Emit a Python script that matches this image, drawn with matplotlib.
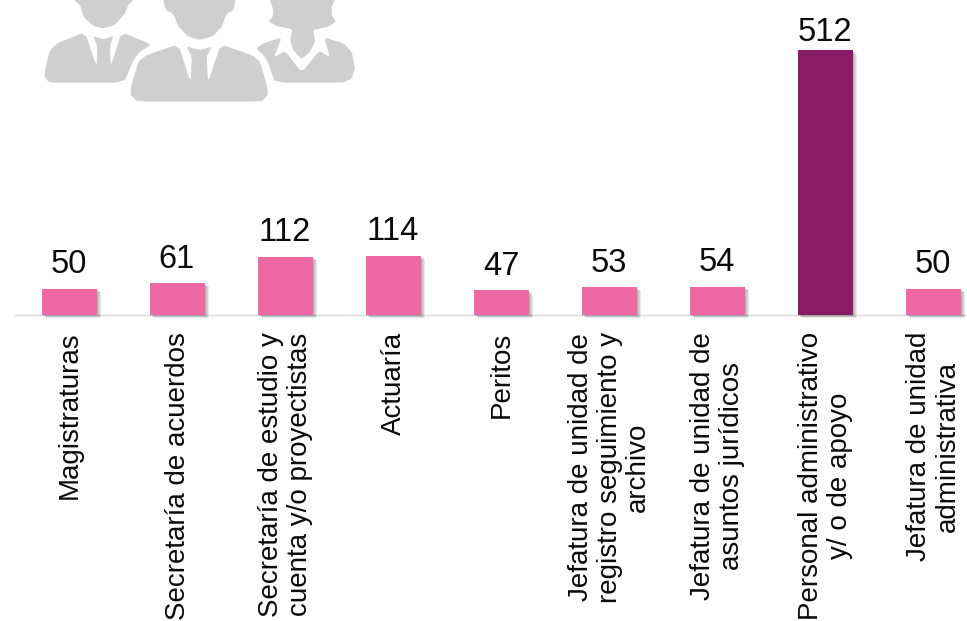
import matplotlib
matplotlib.use("Agg")
import matplotlib.pyplot as plt
import matplotlib.patheffects as pe
from matplotlib.patches import Polygon

plt.rcParams['font.family'] = ['Liberation Sans', 'DejaVu Sans']

categories = ["Magistraturas", "Secretaría de acuerdos",
              "Secretaría de estudio y\ncuenta y/o proyectistas", "Actuaría", "Peritos",
              "Jefatura de unidad de\nregistro seguimiento y\narchivo",
              "Jefatura de unidad de\nasuntos jurídicos",
              "Personal administrativo\ny/ o de apoyo",
              "Jefatura de unidad\nadministrativa"]
values = [50, 61, 112, 114, 47, 53, 54, 512, 50]
colors = ["#EE69A4"] * 7 + ["#8A1C65"] + ["#EE69A4"]

W, H = 967, 621
fig = plt.figure(figsize=(W / 100, H / 100), dpi=100)
ax = fig.add_axes([0, 0, 1, 1])
scale = 0.516
base = 314.5
ax.set_xlim(-69 / 108, (W - 69) / 108)
ax.set_ylim(-(H - base) / scale, base / scale)
ax.axis('off')

positions = list(range(len(values)))
shadow = [pe.SimplePatchShadow(offset=(o, -o * 0.8), shadow_rgbFace='#555555', alpha=0.13) for o in (3.0, 2.4, 1.8, 1.2)]
shadow.append(pe.Normal())
bars = ax.bar(positions, values, width=55 / 108, color=colors, linewidth=0, zorder=3)
for b in bars:
    b.set_path_effects(shadow)

line_x = (15 - 69) / 108
ax.plot([line_x, ax.get_xlim()[1]], [0, 0], color='#d9d9d9', lw=1, zorder=2)

for x, v in zip(positions, values):
    pad = 2.0 if v > 300 else 6.0
    ax.annotate(str(v), (x, v), xytext=(0, pad), textcoords='offset points', ha='center', va='bottom',
                fontsize=23.5, color='#0a0a0a')
for x, c in zip(positions, categories):
    ax.annotate(c, (x + 0.005, 0), xytext=(0, -12.5), textcoords='offset points', rotation=90, ha='center', va='top',
                multialignment='center', fontsize=20, color='#0a0a0a', linespacing=1.13)


def smooth(pts, t=0.12, passes=1):
    for _ in range(passes):
        out = []
        n = len(pts)
        for i in range(n):
            a, b = pts[i], pts[(i + 1) % n]
            out.append((a[0] + t * (b[0] - a[0]), a[1] + t * (b[1] - a[1])))
            out.append((b[0] - t * (b[0] - a[0]), b[1] - t * (b[1] - a[1])))
        pts = out
    return pts


# decorative icon, in pixel space (zoom coordinates / 3)
ic = fig.add_axes([0, 0, 1, 1], zorder=-1)
ic.set_xlim(0, W)
ic.set_ylim(H, 0)
ic.axis('off')
shapes = [
    [(222,-20),(222,0),(240,15),(250,50),(280,78),(310,85),(345,75),(375,40),(385,15),(400,0),(400,-20)],
    [(135,210),(150,150),(175,128),(255,97),(290,200),(292,140),(280,108),(310,118),(340,108),(330,140),(332,200),
     (365,97),(455,133),(420,155),(400,180),(372,248),(150,248),(135,235)],
    [(392,265),(415,185),(440,165),(535,133),(572,248),(575,170),(560,140),(600,150),(635,140),(620,170),(624,248),
     (662,133),(755,165),(780,185),(803,265),(803,285),(785,305),(412,305),(392,285)],
    [(490,-20),(490,0),(497,30),(520,42),(535,80),(565,110),(600,120),(640,108),(665,80),(680,42),(700,30),(707,0),(707,-20)],
    [(810,-20),(810,0),(820,30),(818,50),(806,65),(830,78),(878,88),(870,120),(880,150),(905,178),(930,155),(945,125),(940,90),
     (985,80),(1008,65),(995,45),(995,20),(1005,0),(1005,-20)],
    [(768,145),(790,130),(845,112),(822,172),(855,152),(905,218),(958,152),(990,172),(972,112),(1030,130),(1055,155),
     (1065,205),(1055,235),(1030,248),(825,248),(805,190),(795,170)],
]
for s in shapes:
    ic.add_patch(Polygon([(a / 3, b / 3) for a, b in smooth(s)], closed=True, fc='#CFCFCF', ec='none'))

fig.savefig('out.png', dpi=100)
